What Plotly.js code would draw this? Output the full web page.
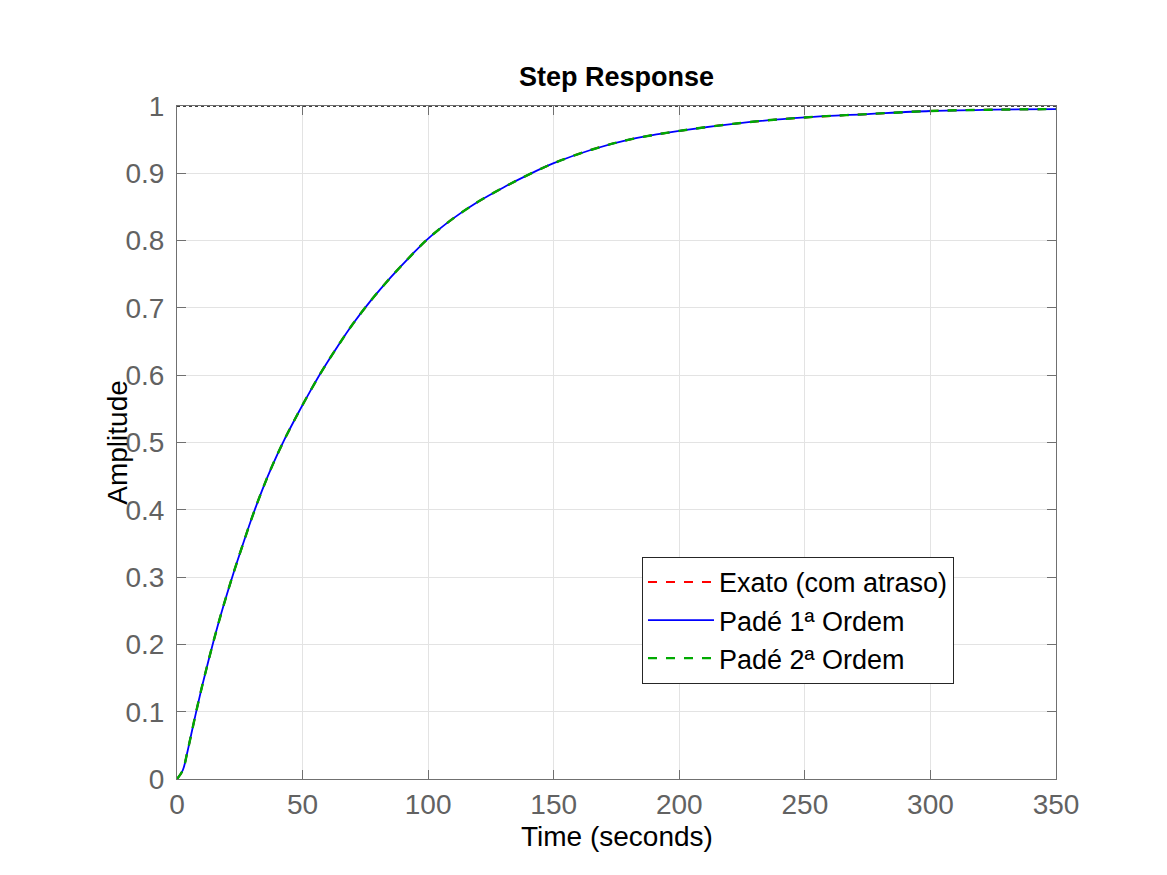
<!DOCTYPE html>
<html>
<head>
<meta charset="utf-8">
<script src="https://cdn.plot.ly/plotly-3.0.1.min.js"></script>
<style>
  html, body { margin: 0; padding: 0; background: #ffffff; }
  #myDiv { width: 1167px; height: 875px; }
</style>
</head>
<body>
<div id="myDiv"></div>
<script>
// valores (tempo em segundos, amplitude)
var tempo = [0, 2.3, 4, 6, 8, 10, 12, 14, 17, 20, 23, 26, 30, 34, 38, 43, 48, 53, 58, 64, 70, 77, 85, 93, 100,
  110, 120, 130, 140, 150, 165, 180, 200, 225, 250, 275, 300, 325, 350];
var exato = [0, 0.013, 0.038, 0.072, 0.106, 0.138, 0.168, 0.197, 0.238, 0.276, 0.312, 0.346, 0.39, 0.43, 0.466, 0.506,
  0.542, 0.576, 0.608, 0.643, 0.676, 0.71, 0.745, 0.777, 0.803,
  0.833, 0.858, 0.879, 0.898, 0.915, 0.935, 0.95, 0.963, 0.975, 0.983, 0.988, 0.9926, 0.9945, 0.9955];
var pade1 = exato.slice();
var pade2 = exato.slice();

var tempoFinal = [0, 350];
var valorFinal = [1, 1];

var xTicks = [0, 50, 100, 150, 200, 250, 300, 350];
var yTicks = [0, 0.1, 0.2, 0.3, 0.4, 0.5, 0.6, 0.7, 0.8, 0.9, 1];
var yTickText = ['0', '0.1', '0.2', '0.3', '0.4', '0.5', '0.6', '0.7', '0.8', '0.9', '1'];

var fonte = 'Liberation Sans, Arial, Helvetica, sans-serif';

function stepChart() {
  var trace1 = {
    x: tempo,
    y: exato,
    name: 'Exato (com atraso)',
    type: 'scatter',
    mode: 'lines',
    line: { color: '#ff0000', width: 2, dash: 'dash', shape: 'spline', smoothing: 1 }
  };

  var trace2 = {
    x: tempo,
    y: pade1,
    name: 'Padé 1ª Ordem',
    type: 'scatter',
    mode: 'lines',
    line: { color: '#0000ff', width: 1.8, shape: 'spline', smoothing: 1 }
  };

  var trace3 = {
    x: tempo,
    y: pade2,
    name: 'Padé 2ª Ordem',
    type: 'scatter',
    mode: 'lines',
    line: { color: '#00aa00', width: 2.4, dash: 'dash', shape: 'spline', smoothing: 1 }
  };

  // linha do valor final (regime permanente)
  var trace4 = {
    x: tempoFinal,
    y: valorFinal,
    type: 'scatter',
    mode: 'lines',
    showlegend: false,
    hoverinfo: 'skip',
    cliponaxis: false,
    line: { color: '#000000', width: 1.5, dash: 'dot' }
  };

  var eixo = {
    showline: true,
    mirror: 'ticks',
    linecolor: '#707070',
    linewidth: 1,
    ticks: 'inside',
    ticklen: 9,
    tickcolor: '#707070',
    showgrid: true,
    gridcolor: '#e3e3e3',
    gridwidth: 1,
    zeroline: false,
    tickfont: { family: fonte, size: 28, color: '#626262' }
  };

  var layout = {
    width: 1167,
    height: 875,
    margin: { l: 177, r: 111, t: 106, b: 96 },
    paper_bgcolor: '#ffffff',
    plot_bgcolor: '#ffffff',
    title: {
      text: '<b>Step Response</b>',
      font: { family: fonte, size: 27, color: '#000000' },
      x: 0.5283, xanchor: 'center',
      y: 0.912, yanchor: 'middle'
    },
    xaxis: Object.assign({}, eixo, {
      range: [0, 350],
      tickvals: xTicks,
      ticktext: xTicks.map(String),
      ticklabelstandoff: 0
    }),
    yaxis: Object.assign({}, eixo, {
      range: [0, 1],
      tickvals: yTicks,
      ticktext: yTickText,
      ticklabelstandoff: 6
    }),
    showlegend: true,
    legend: {
      x: 0.529, y: 0.33,
      xanchor: 'left', yanchor: 'top',
      bgcolor: '#ffffff',
      bordercolor: '#262626',
      borderwidth: 1,
      itemwidth: 66,
      font: { family: fonte, size: 27, color: '#000000' },
      tracegroupgap: 0
    },
    annotations: [
      {
        text: 'Time (seconds)',
        xref: 'paper', yref: 'paper',
        x: 0.5, y: -0.086,
        xanchor: 'center', yanchor: 'middle',
        showarrow: false,
        font: { family: fonte, size: 28, color: '#000000' }
      },
      {
        text: 'Amplitude',
        xref: 'paper', yref: 'paper',
        x: -0.068, y: 0.5,
        xanchor: 'center', yanchor: 'middle',
        textangle: -90,
        showarrow: false,
        font: { family: fonte, size: 28, color: '#000000' }
      }
    ]
  };

  var data = [trace1, trace2, trace3, trace4];

  Plotly.newPlot('myDiv', data, layout, { displayModeBar: false, staticPlot: true });
}

stepChart();
</script>
</body>
</html>
